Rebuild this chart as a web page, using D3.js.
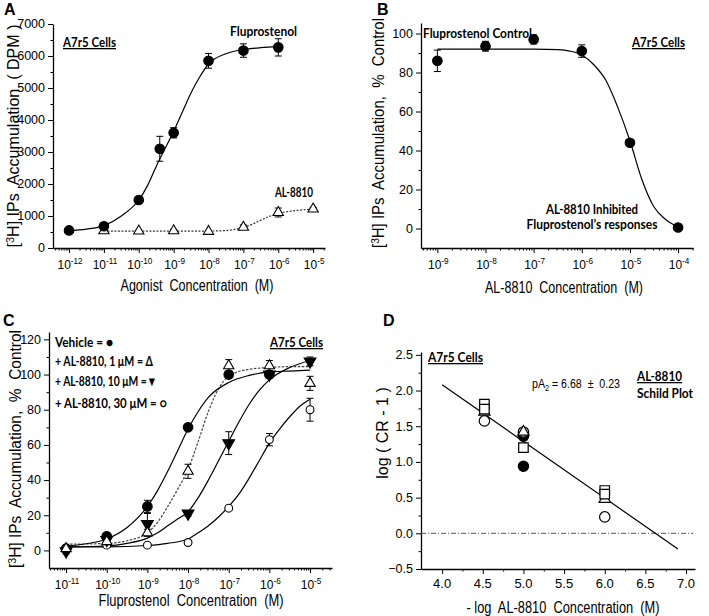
<!DOCTYPE html>
<html>
<head>
<meta charset="utf-8">
<title>AL-8810 A7r5</title>
<script src="https://cdnjs.cloudflare.com/ajax/libs/d3/7.8.5/d3.min.js"></script>
<style>
body{margin:0;background:#fff}
svg{display:block}
svg text{white-space:pre}
.ax .domain{stroke:#000;stroke-width:1.3}
.ax line{stroke:#000;stroke-width:1}
</style>
</head>
<body>
<script>

// ---- panel A
var aConc = [1e-12,1e-11,1e-10,4e-10,1e-9,1e-8,1e-7,1e-6]
var aFlu = [550,680,1500,3100,3600,5850,6170,6270]
var aFluErr = [40,70,60,390,160,230,210,270]
var aAlConc = [1e-11,1e-10,1e-9,1e-8,1e-7,1e-6,1e-5]
var aAl = [540,530,540,520,650,1110,1220]
var aAlErr = [70,25,40,25,70,140,50]
var aFluFitLogX = [-12,-11.5,-11,-10.5,-10,-9.75,-9.5,-9.25,-9,-8.75,-8.5,-8.25,-8,-7.5,-7,-6.5,-6]
var aFluFit = [540,590,700,1000,1500,1950,2550,3100,3650,4250,4850,5350,5750,6070,6200,6260,6290]
var aAlFitLogX = [-11,-10,-9,-8,-7.5,-7.25,-7,-6.75,-6.5,-6.25,-6,-5.5,-5]
var aAlFit = [530,530,530,530,545,580,640,740,870,990,1080,1170,1215]
var aDecades = [-12,-11,-10,-9,-8,-7,-6,-5]
var aYTicks = [0,1000,2000,3000,4000,5000,6000,7000]

// ---- panel B
var bConc = [1e-9,1e-8,1e-7,1e-6,1e-5,1e-4]
var bResp = [86,93.5,97,91,44,0.5]
var bErr = [5.5,2.5,2.3,3.2,1,0.8]
var bFitLogX = [-9,-8,-7,-6.5,-6.25,-6,-5.75,-5.5,-5.25,-5,-4.75,-4.5,-4.25,-4]
var bFit = [92,92,92,91.7,91,89,84,76,62,45,25,11,4.5,0.8]
var bDecades = [-9,-8,-7,-6,-5,-4]
var bYTicks = [0,20,40,60,80,100]

// ---- panel C
var cConc = [1e-11,1e-10,1e-9,1e-8,1e-7,1e-6,1e-5]
var cVeh = [1,8,25,70,100,100]
var cVehErr = [1.5,1.5,3.5,1.5,2,1.5]
var cAl1 = [1,5,10,45,105,105,95]
var cAl1Err = [1.5,1.5,2,4,3.5,3,4]
var cAl10 = [-0.5,6,15,21,61,100,107.5]
var cAl10Err = [1.5,1.5,6,1.5,6.5,2,2.5]
var cAl30 = [1,3,3,4.5,24,63,80]
var cAl30Err = [1,1,1,1,1,3.5,6.5]
var cVehFitLogX = [-11,-10.5,-10,-9.5,-9,-8.75,-8.5,-8.25,-8,-7.75,-7.5,-7,-6.5,-6,-5.5,-5]
var cVehFit = [2.5,3.8,6.5,13,25,34,45,57,69,79,87,95.5,99.5,101.5,102,102.5]
var cAl1FitLogX = [-11,-10,-9.5,-9,-8.75,-8.5,-8.25,-8,-7.75,-7.5,-7.25,-7,-6.5,-6,-5.5,-5]
var cAl1Fit = [3.5,4,5.5,10,16,25,35,46,62,79,92,99,103,104,104.5,104.5]
var cAl10FitLogX = [-11,-10,-9.5,-9,-8.75,-8.5,-8.25,-8,-7.75,-7.5,-7.25,-7,-6.75,-6.5,-6.25,-6,-5.5,-5]
var cAl10Fit = [2,2.5,4,7,10,14,18,22,30,40,51,62,73,83,91,97,104,108]
var cAl30FitLogX = [-11,-10,-9,-8.5,-8,-7.75,-7.5,-7.25,-7,-6.75,-6.5,-6.25,-6,-5.75,-5.5,-5.25,-5]
var cAl30Fit = [2,2,2.8,4,6.5,10,14,19,25,32,41,51,61,69,76,82,86]
var cDecades = [-11,-10,-9,-8,-7,-6,-5]
var cYTicks = [0,20,40,60,80,100,120]
var cLegend = ["Vehicle = \u25CF","+ AL-8810, 1 \u03BCM = \u0394","+ AL-8810, 10 \u03BCM =\u25BC","+ AL-8810, 30 \u03BCM = \u25CB"]

// ---- panel D (Schild)
var dSqX = [4.52,4.52,5.0,6.0,6.0]
var dSqY = [1.81,1.74,1.2,0.6,0.55]
var dTriX = [4.52,5.0,6.0]
var dTriY = [1.70,1.42,0.48]
var dOpenX = [4.52,5.0,6.0]
var dOpenY = [1.575,1.42,0.23]
var dFillX = [5.0,5.0]
var dFillY = [1.36,0.94]
var dLineX = [4.0,6.9]
var dLineY = [2.08,-0.22]
var dZeroX = [3.74,7.09]
var dZeroY = [0,0]
var dXTicks = [4.0,4.5,5.0,5.5,6.0,6.5,7.0]
var dYTicks = [-0.5,0,0.5,1.0,1.5,2.0,2.5]

var FN = '"Liberation Sans Narrow","Arial Narrow","Liberation Sans",Arial,sans-serif'
var FB = 'Lato,"Open Sans",sans-serif'
var FA = '"Liberation Sans",Arial,sans-serif'

var svg = d3.select("body").append("svg").attr("width",709).attr("height",616)
svg.append("rect").attr("width",709).attr("height",616).attr("fill","#fff")

function txt(g, x, y, parts, o){
	o = o || {}
	var t = g.append("text").attr("x",x).attr("y",y)
		.attr("font-family",o.font || FN)
		.attr("font-size",o.size || 12)
		.attr("font-weight",o.bold ? "bold" : "normal")
		.attr("text-anchor",o.anchor || "start")
		.attr("fill","#000")
	if(o.rot) t.attr("transform","rotate(-90," + x + "," + y + ")")
	if(o.width) t.attr("textLength",o.width).attr("lengthAdjust","spacingAndGlyphs")
	if(o.under) t.style("text-decoration","underline")
	if(typeof parts == "string") parts = [[parts,0]]
	var shift = 0
	parts.forEach(function(p){
		var s = t.append("tspan").text(p[0])
		var want = p[1] == 1 ? -5 : (p[1] == -1 ? 3 : 0)
		if(want != shift) s.attr("dy",want - shift)
		if(p[1] != 0) s.attr("font-size",(o.size || 12) * 0.68)
		shift = want
	})
	return t
}

function logX(lo, hi, p0, p1){
	return d3.scaleLog().domain([Math.pow(10,lo),Math.pow(10,hi)]).range([p0,p1])
}

function minorLog(x){
	var d = x.domain(), out = []
	var e0 = Math.floor(Math.log10(d[0])), e1 = Math.ceil(Math.log10(d[1]))
	for(var e = e0; e <= e1; e++){
		for(var k = 2; k <= 9; k++){
			var v = k * Math.pow(10,e)
			if(v > d[0] && v < d[1]) out.push(v)
		}
	}
	return out
}

function axes(g, x, y, o){
	var xa = g.append("g").attr("class","ax").attr("transform","translate(0," + o.axisY + ")")
	xa.call(d3.axisBottom(x).tickValues(o.xMajor).tickSize(5).tickSizeOuter(0).tickFormat(""))
	g.append("g").attr("class","ax").attr("transform","translate(0," + o.axisY + ")")
		.call(d3.axisBottom(x).tickValues(o.xMinor).tickSize(2.5).tickSizeOuter(0).tickFormat(""))
		.select(".domain").remove()
	var ya = g.append("g").attr("class","ax").attr("transform","translate(" + o.axisX + ",0)")
	ya.call(d3.axisLeft(y).tickValues(o.yMajor).tickSize(5).tickSizeOuter(0).tickFormat(""))
	g.append("g").attr("class","ax").attr("transform","translate(" + o.axisX + ",0)")
		.call(d3.axisLeft(y).tickValues(o.yMinor).tickSize(2.5).tickSizeOuter(0).tickFormat(""))
		.select(".domain").remove()
	o.yMajor.forEach(function(v){
		txt(g, o.axisX - 8, y(v) + 4.3, o.yFmt(v), {anchor:"end", size:12.5})
	})
	if(o.log){
		o.xMajor.forEach(function(v){
			var e = Math.round(Math.log10(v))
			txt(g, x(v) + 1, o.axisY + 21, [["10",0],[String(e),1]], {anchor:"middle", size:12})
		})
	}else{
		o.xMajor.forEach(function(v){
			txt(g, x(v), o.axisY + 19, d3.format(".1f")(v), {anchor:"middle", size:13})
		})
	}
}

function errs(g, xs, ys, es, x, y){
	xs.forEach(function(xv,i){
		var e = es[i]
		if(!e) return
		var cx = x(xv), t = y(ys[i] + e), b = y(ys[i] - e)
		g.append("line").attr("x1",cx).attr("x2",cx).attr("y1",t).attr("y2",b).attr("stroke","#000").attr("stroke-width",1)
		g.append("line").attr("x1",cx - 3.5).attr("x2",cx + 3.5).attr("y1",t).attr("y2",t).attr("stroke","#000").attr("stroke-width",1)
		g.append("line").attr("x1",cx - 3.5).attr("x2",cx + 3.5).attr("y1",b).attr("y2",b).attr("stroke","#000").attr("stroke-width",1)
	})
}

function marks(g, xs, ys, x, y, s){
	var sym = d3.symbol().type(s.type).size(s.size)
	g.selectAll(null).data(d3.zip(xs,ys)).join("path")
		.attr("d",sym)
		.attr("transform",function(d){ return "translate(" + x(d[0]) + "," + y(d[1]) + ")" + (s.rot ? " rotate(" + s.rot + ")" : "") })
		.attr("fill",s.fill ? "#000" : "#fff")
		.attr("stroke","#000")
		.attr("stroke-width",s.sw || 1.1)
}

function curve(g, lx, ly, x, y, dash, col){
	var line = d3.line()
		.x(function(d){ return x(Math.pow(10,d[0])) })
		.y(function(d){ return y(d[1]) })
		.curve(d3.curveMonotoneX)
	g.append("path").datum(d3.zip(lx,ly)).attr("d",line)
		.attr("fill","none").attr("stroke",col || "#000").attr("stroke-width",1.2)
		.attr("stroke-dasharray",dash || null)
}

var circ = {type:d3.symbolCircle, size:72, fill:true}
var triO = {type:d3.symbolTriangle, size:46, fill:false}
var triDown = {type:d3.symbolTriangle, size:60, fill:true, rot:180}
var circO = {type:d3.symbolCircle, size:48, fill:false}

// ================= A
var gA = svg.append("g")
var xA = logX(-12.46,-4.66,53,325)
var yA = d3.scaleLinear().domain([0,7000]).range([248,24])
axes(gA, xA, yA, {axisY:248, axisX:53, log:true,
	xMajor:aDecades.map(function(e){ return Math.pow(10,e) }), xMinor:minorLog(xA),
	yMajor:aYTicks, yMinor:d3.range(500,7000,1000), yFmt:String})
curve(gA, aAlFitLogX, aAlFit, xA, yA, "2,1.5", "#333")
curve(gA, aFluFitLogX, aFluFit, xA, yA)
errs(gA, aAlConc, aAl, aAlErr, xA, yA)
errs(gA, aConc, aFlu, aFluErr, xA, yA)
marks(gA, aAlConc, aAl, xA, yA, triO)
marks(gA, aConc, aFlu, xA, yA, circ)
txt(gA, 63, 47, "A7r5 Cells", {font:FB, bold:true, size:13, width:53, under:true})
txt(gA, 230, 36, "Fluprostenol", {font:FB, bold:true, size:13, width:67})
txt(gA, 275, 197, "AL-8810", {font:FB, bold:true, size:13, width:38})
txt(gA, 19, 136, [["[",0],["3",1],["H] IPs  Accumulation  ( DPM )",0]], {rot:true, anchor:"middle", size:16, width:223})
txt(gA, 197, 291, "Agonist  Concentration  (M)", {anchor:"middle", size:16, width:153})
txt(gA, 4, 15, "A", {font:FA, bold:true, size:16})

// ================= B
var gB = svg.append("g")
var xB = logX(-9.34,-3.69,421,693)
var yB = d3.scaleLinear().domain([-10,105.4]).range([248,23])
axes(gB, xB, yB, {axisY:248, axisX:421, log:true,
	xMajor:bDecades.map(function(e){ return Math.pow(10,e) }), xMinor:minorLog(xB),
	yMajor:bYTicks, yMinor:[10,30,50,70,90], yFmt:String})
curve(gB, bFitLogX, bFit, xB, yB)
errs(gB, bConc, bResp, bErr, xB, yB)
marks(gB, bConc, bResp, xB, yB, circ)
txt(gB, 423, 38, "Fluprostenol Control", {font:FB, bold:true, size:13, width:109})
txt(gB, 632, 47, "A7r5 Cells", {font:FB, bold:true, size:13, width:53, under:true})
txt(gB, 592, 214, "AL-8810 Inhibited", {font:FB, bold:true, size:13, width:92, anchor:"middle"})
txt(gB, 592, 229, "Fluprostenol\u2019s responses", {font:FB, bold:true, size:13, width:131, anchor:"middle"})
txt(gB, 384, 133, [["[",0],["3",1],["H] IPs  Accumulation,  %  Control",0]], {rot:true, anchor:"middle", size:16, width:230})
txt(gB, 564, 293, "AL-8810  Concentration  (M)", {anchor:"middle", size:16, width:158})
txt(gB, 377, 15, "B", {font:FA, bold:true, size:16})

// ================= C
var gC = svg.append("g")
var xC = logX(-11.42,-4.46,49,332)
var yC = d3.scaleLinear().domain([-10,124.2]).range([568,332])
axes(gC, xC, yC, {axisY:568, axisX:49, log:true,
	xMajor:cDecades.map(function(e){ return Math.pow(10,e) }), xMinor:minorLog(xC),
	yMajor:cYTicks, yMinor:[10,30,50,70,90,110], yFmt:String})
curve(gC, cAl1FitLogX, cAl1Fit, xC, yC, "2.5,1.5", "#444")
curve(gC, cVehFitLogX, cVehFit, xC, yC)
curve(gC, cAl10FitLogX, cAl10Fit, xC, yC)
curve(gC, cAl30FitLogX, cAl30Fit, xC, yC)
errs(gC, cConc, cAl30, cAl30Err, xC, yC)
errs(gC, cConc, cAl10, cAl10Err, xC, yC)
errs(gC, cConc, cAl1, cAl1Err, xC, yC)
errs(gC, cConc.slice(0,cVeh.length), cVeh, cVehErr, xC, yC)
marks(gC, cConc.slice(0,cVeh.length), cVeh, xC, yC, circ)
marks(gC, cConc, cAl30, xC, yC, circO)
marks(gC, cConc, cAl10, xC, yC, triDown)
marks(gC, cConc, cAl1, xC, yC, triO)
var legW = [58,98,102,112], legY = [347,366,386,408]
cLegend.forEach(function(s,i){
	txt(gC, 55, legY[i], s, {font:FB, bold:true, size:13, width:legW[i]})
})
txt(gC, 270, 347, "A7r5 Cells", {font:FB, bold:true, size:13, width:53, under:true})
txt(gC, 21, 449, [["[",0],["3",1],["H] IPs  Accumulation,  %  Control",0]], {rot:true, anchor:"middle", size:16, width:238})
txt(gC, 191, 606, "Fluprostenol  Concentration  (M)", {anchor:"middle", size:16, width:185})
txt(gC, 3, 326, "C", {font:FA, bold:true, size:16})

// ================= D
var gD = svg.append("g")
var xD = d3.scaleLinear().domain([3.74,7.11]).range([421,695])
var yD = d3.scaleLinear().domain([-0.5,2.54]).range([569,352])
axes(gD, xD, yD, {axisY:569, axisX:421, log:false,
	xMajor:dXTicks, xMinor:[4.25,4.75,5.25,5.75,6.25,6.75],
	yMajor:dYTicks, yMinor:[-0.25,0.25,0.75,1.25,1.75,2.25], yFmt:d3.format(".1f")})
var lineD = d3.line().x(function(d){ return xD(d[0]) }).y(function(d){ return yD(d[1]) })
gD.append("path").datum(d3.zip(dZeroX,dZeroY)).attr("d",lineD)
	.attr("stroke","#555").attr("stroke-width",1).attr("stroke-dasharray","5,2,1,2").attr("fill","none")
gD.append("path").datum(d3.zip(dLineX,dLineY)).attr("d",lineD)
	.attr("stroke","#000").attr("stroke-width",1.2).attr("fill","none")
marks(gD, dFillX, dFillY, xD, yD, {type:d3.symbolCircle, size:85, fill:true})
marks(gD, dOpenX, dOpenY, xD, yD, {type:d3.symbolCircle, size:85, fill:false, sw:1.2})
marks(gD, dTriX, dTriY, xD, yD, {type:d3.symbolTriangle, size:55, fill:false, sw:1.2})
marks(gD, dSqX, dSqY, xD, yD, {type:d3.symbolSquare, size:90, fill:false, sw:1.2})
txt(gD, 428, 362, "A7r5 Cells", {font:FB, bold:true, size:13, width:55, under:true})
txt(gD, 532, 388, [["pA",0],["2",-1],[" = 6.68  \u00B1  0.23",0]], {size:12.5, width:88})
txt(gD, 637, 381, "AL-8810", {font:FB, bold:true, size:13, width:45, under:true})
txt(gD, 637, 398, "Schild Plot", {font:FB, bold:true, size:13, width:56})
txt(gD, 388, 433, "log ( CR - 1 )", {rot:true, anchor:"middle", size:16})
txt(gD, 563, 613, "- log  AL-8810  Concentration  (M)", {anchor:"middle", size:16, width:193})
txt(gD, 383, 326, "D", {font:FA, bold:true, size:16})

</script>
</body>
</html>
